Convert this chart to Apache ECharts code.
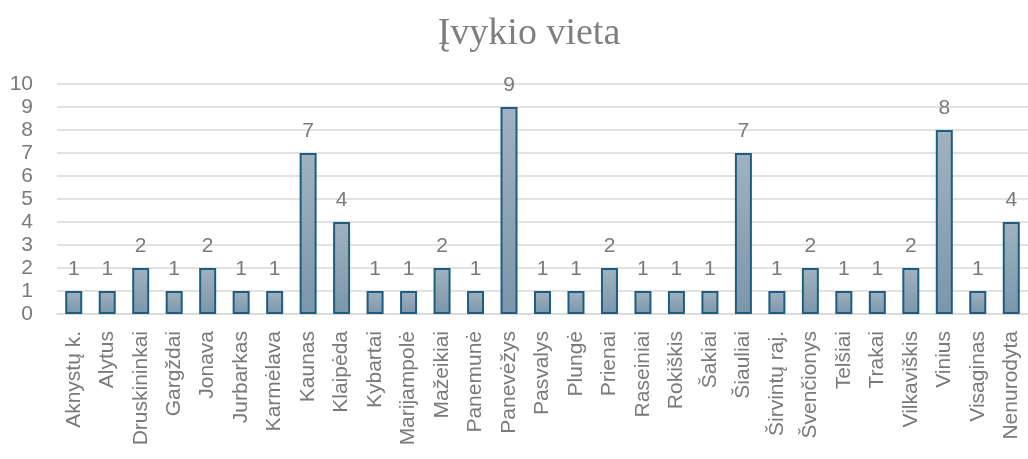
<!DOCTYPE html>
<html><head><meta charset="utf-8">
<script src="https://cdn.jsdelivr.net/npm/echarts@6/dist/echarts.min.js"></script>
<style>html,body{margin:0;padding:0;background:#fff}#c{width:1028px;height:459px}</style>
</head><body><div id="c"></div>
<script>
const categories = ["Aknystų k.","Alytus","Druskininkai","Gargždai","Jonava","Jurbarkas","Karmėlava","Kaunas","Klaipėda","Kybartai","Marijampolė","Mažeikiai","Panemunė","Panevėžys","Pasvalys","Plungė","Prienai","Raseiniai","Rokiškis","Šakiai","Šiauliai","Širvintų raj.","Švenčionys","Telšiai","Trakai","Vilkaviškis","Vinius","Visaginas","Nenurodyta"];
const values = [1,1,2,1,2,1,1,7,4,1,1,2,1,9,1,1,2,1,1,1,7,1,2,1,1,2,8,1,4];
const titleText = "Įvykio vieta";

const chart = echarts.init(document.getElementById('c'));
chart.setOption({
  animation: false,
  backgroundColor: '#fff',
  title: {
    text: titleText, left: 524, top: 10, textAlign: 'center',
    textStyle: {fontFamily: 'Liberation Serif', fontSize: 38, fontWeight: 'normal', color: '#7f7f7f'}
  },
  grid: {left: 57, top: 84, width: 980, height: 230, containLabel: false},
  xAxis: {
    type: 'category', data: categories,
    axisLine: {lineStyle: {color: '#d9d9d9', width: 1.5}},
    axisTick: {show: false},
    axisLabel: {rotate: 90, interval: 0, margin: 17, fontFamily: 'Liberation Sans', fontSize: 21, color: '#7a7a7a'}
  },
  yAxis: {
    type: 'value', min: 0, max: 10, interval: 1,
    axisLine: {show: false}, axisTick: {show: false},
    splitLine: {lineStyle: {color: '#d9d9d9', width: 1.5}},
    axisLabel: {margin: 24, fontFamily: 'Liberation Sans', fontSize: 21, color: '#7a7a7a'}
  },
  series: [{
    type: 'bar', data: values, barWidth: 17,
    itemStyle: {
      color: new echarts.graphic.LinearGradient(0,0,0,1,[{offset:0,color:'#a0b2c1'},{offset:1,color:'#7b96aa'}]),
      borderColor: '#1d5e80', borderWidth: 2
    },
    label: {show: true, position: 'top', distance: 11, fontFamily: 'Liberation Sans', fontSize: 21, color: '#7a7a7a'}
  }]
});
</script></body></html>
